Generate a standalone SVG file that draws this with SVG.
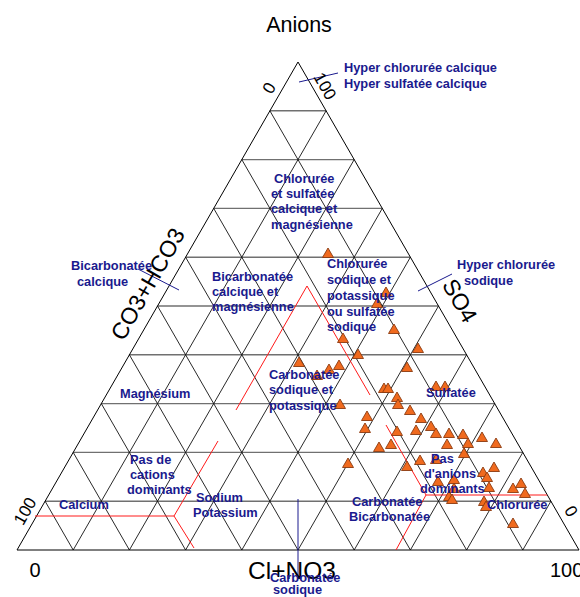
<svg xmlns="http://www.w3.org/2000/svg" width="580" height="597" viewBox="0 0 580 597">
<style>
.lbl{font-family:"Liberation Sans",Arial,sans-serif;font-weight:bold;font-size:12.8px;fill:#1a1a8e}
.ax{font-family:"Liberation Sans",Arial,sans-serif;fill:#000}
.h{stroke:#707070;stroke-width:1.4;fill:none}
.d{stroke:#111;stroke-width:0.9;fill:none}
.red{stroke:#ff1a1a;stroke-width:1;fill:none}
.lead{stroke:#1a1a8e;stroke-width:1;fill:none}
.pt{fill:#f06a1e;stroke:#8a3a10;stroke-width:0.9}
</style>
<defs>
<path id="tri" d="M0,-5 L5.5,4.5 L-5.5,4.5 Z"/>
</defs>
<rect width="580" height="597" fill="#fff"/>
<g id="grid">
<g class="h">
<line x1="269.9" y1="110.8" x2="326.1" y2="110.8"/>
<line x1="241.8" y1="159.6" x2="354.2" y2="159.6"/>
<line x1="213.7" y1="208.4" x2="382.3" y2="208.4"/>
<line x1="185.6" y1="257.2" x2="410.4" y2="257.2"/>
<line x1="157.5" y1="306" x2="438.5" y2="306"/>
<line x1="129.4" y1="354.8" x2="466.6" y2="354.8"/>
<line x1="101.3" y1="403.6" x2="494.7" y2="403.6"/>
<line x1="73.2" y1="452.4" x2="522.8" y2="452.4"/>
<line x1="45.1" y1="501.2" x2="550.9" y2="501.2"/>
</g>
<g class="d">
<line x1="73.2" y1="550" x2="326.1" y2="110.8"/>
<line x1="129.4" y1="550" x2="354.2" y2="159.6"/>
<line x1="185.6" y1="550" x2="382.3" y2="208.4"/>
<line x1="241.8" y1="550" x2="410.4" y2="257.2"/>
<line x1="298" y1="550" x2="438.5" y2="306"/>
<line x1="354.2" y1="550" x2="466.6" y2="354.8"/>
<line x1="410.4" y1="550" x2="494.7" y2="403.6"/>
<line x1="466.6" y1="550" x2="522.8" y2="452.4"/>
<line x1="522.8" y1="550" x2="550.9" y2="501.2"/>
<line x1="73.2" y1="550" x2="45.1" y2="501.2"/>
<line x1="129.4" y1="550" x2="73.2" y2="452.4"/>
<line x1="185.6" y1="550" x2="101.3" y2="403.6"/>
<line x1="241.8" y1="550" x2="129.4" y2="354.8"/>
<line x1="298" y1="550" x2="157.5" y2="306"/>
<line x1="354.2" y1="550" x2="185.6" y2="257.2"/>
<line x1="410.4" y1="550" x2="213.7" y2="208.4"/>
<line x1="466.6" y1="550" x2="241.8" y2="159.6"/>
<line x1="522.8" y1="550" x2="269.9" y2="110.8"/>
<polygon points="298,62 17,550 579,550" stroke="#000" stroke-width="1"/>
</g>
</g>
<g id="connectors">
<g class="red">
<polyline points="35,516 174,516 218,441"/>
<line x1="174" y1="516" x2="194" y2="548"/>
<polyline points="236,410 307,286 370,395"/>
<polyline points="386,425 426,495 547,495"/>
<line x1="426" y1="495" x2="396" y2="550"/>
</g>
<g class="lead">
<line x1="299" y1="82" x2="338" y2="73"/>
<line x1="138" y1="269" x2="179" y2="290"/>
<line x1="418" y1="291" x2="452" y2="274"/>
<line x1="298" y1="499" x2="298" y2="578"/>
</g>
</g>
<g id="axes">
<text class="ax" x="299" y="32" font-size="21.5" text-anchor="middle">Anions</text>
<text class="ax" font-size="23" text-anchor="middle" transform="translate(154.6,288) rotate(-60)">CO3+HCO3</text>
<text class="ax" font-size="23" text-anchor="middle" transform="translate(453,304.6) rotate(60)">SO4</text>
<text class="ax" font-size="17" text-anchor="middle" transform="translate(274,91) rotate(-60)">0</text>
<text class="ax" font-size="17" text-anchor="middle" transform="translate(320,89) rotate(60)">100</text>
<text class="ax" font-size="17" text-anchor="middle" transform="translate(30,514) rotate(-60)">100</text>
<text class="ax" font-size="17" text-anchor="middle" transform="translate(566,514) rotate(60)">0</text>
<text class="ax" x="35" y="577" font-size="20" text-anchor="middle">0</text>
<text class="ax" x="550" y="577" font-size="20">100</text>
<text class="ax" x="248" y="579" font-size="24.5">Cl+NO3</text>
</g>
<g id="points">
<use href="#tri" class="pt" x="328" y="253"/>
<use href="#tri" class="pt" x="386" y="292"/>
<use href="#tri" class="pt" x="377" y="303"/>
<use href="#tri" class="pt" x="394" y="329"/>
<use href="#tri" class="pt" x="343" y="338"/>
<use href="#tri" class="pt" x="418" y="348"/>
<use href="#tri" class="pt" x="358" y="354"/>
<use href="#tri" class="pt" x="299" y="362"/>
<use href="#tri" class="pt" x="317" y="375"/>
<use href="#tri" class="pt" x="329" y="369"/>
<use href="#tri" class="pt" x="339" y="365"/>
<use href="#tri" class="pt" x="407" y="367"/>
<use href="#tri" class="pt" x="384" y="388"/>
<use href="#tri" class="pt" x="388" y="388"/>
<use href="#tri" class="pt" x="436" y="386"/>
<use href="#tri" class="pt" x="445" y="386"/>
<use href="#tri" class="pt" x="340" y="404"/>
<use href="#tri" class="pt" x="397" y="397"/>
<use href="#tri" class="pt" x="398" y="404"/>
<use href="#tri" class="pt" x="410" y="410"/>
<use href="#tri" class="pt" x="367" y="416"/>
<use href="#tri" class="pt" x="421" y="418"/>
<use href="#tri" class="pt" x="365" y="428"/>
<use href="#tri" class="pt" x="431" y="426"/>
<use href="#tri" class="pt" x="397" y="431"/>
<use href="#tri" class="pt" x="416" y="430"/>
<use href="#tri" class="pt" x="436" y="433"/>
<use href="#tri" class="pt" x="449" y="433"/>
<use href="#tri" class="pt" x="463" y="434"/>
<use href="#tri" class="pt" x="482" y="437"/>
<use href="#tri" class="pt" x="447" y="444"/>
<use href="#tri" class="pt" x="468" y="443"/>
<use href="#tri" class="pt" x="496" y="443"/>
<use href="#tri" class="pt" x="391" y="444"/>
<use href="#tri" class="pt" x="379" y="447"/>
<use href="#tri" class="pt" x="464" y="453"/>
<use href="#tri" class="pt" x="348" y="463"/>
<use href="#tri" class="pt" x="420" y="460"/>
<use href="#tri" class="pt" x="436" y="459"/>
<use href="#tri" class="pt" x="407" y="466"/>
<use href="#tri" class="pt" x="494" y="467"/>
<use href="#tri" class="pt" x="483" y="472"/>
<use href="#tri" class="pt" x="487" y="477"/>
<use href="#tri" class="pt" x="438" y="481"/>
<use href="#tri" class="pt" x="454" y="479"/>
<use href="#tri" class="pt" x="454" y="488"/>
<use href="#tri" class="pt" x="489" y="487"/>
<use href="#tri" class="pt" x="513" y="488"/>
<use href="#tri" class="pt" x="521" y="483"/>
<use href="#tri" class="pt" x="525" y="493"/>
<use href="#tri" class="pt" x="449" y="496"/>
<use href="#tri" class="pt" x="452" y="499"/>
<use href="#tri" class="pt" x="484" y="501"/>
<use href="#tri" class="pt" x="486" y="506"/>
<use href="#tri" class="pt" x="513" y="523"/>
</g>
<g id="hyper-calcique" class="lbl"><text x="344" y="72">Hyper chlorurée calcique</text><text x="344" y="88">Hyper sulfatée calcique</text></g>
<g id="chloruree-sulfatee" class="lbl"><text x="274" y="183">Chlorurée</text><text x="271" y="198">et sulfatée</text><text x="271" y="213">calcique et</text><text x="271" y="229">magnésienne</text></g>
<g id="bicarbonatee-calcique" class="lbl"><text x="71" y="270">Bicarbonatée</text><text x="77" y="286">calcique</text></g>
<g id="bicarbonatee-mg" class="lbl"><text x="212" y="281">Bicarbonatée</text><text x="212" y="296">calcique et</text><text x="212" y="311">magnésienne</text></g>
<g id="chloruree-sodique" class="lbl"><text x="327" y="268">Chlorurée</text><text x="327" y="284">sodique et</text><text x="327" y="300">potassique</text><text x="327" y="316">ou sulfatée</text><text x="327" y="331">sodique</text></g>
<g id="hyper-sodique" class="lbl"><text x="457" y="269">Hyper chlorurée</text><text x="464" y="285">sodique</text></g>
<g id="magnesium" class="lbl"><text x="120" y="398">Magnésium</text></g>
<g id="carbonatee-sodique-potassique" class="lbl"><text x="269" y="379">Carbonatée</text><text x="269" y="394">sodique et</text><text x="269" y="410">potassique</text></g>
<g id="sulfatee" class="lbl"><text x="426" y="397">Sulfatée</text></g>
<g id="pas-cations" class="lbl"><text x="130" y="464">Pas de</text><text x="130" y="479">cations</text><text x="127" y="494">dominants</text></g>
<g id="sodium-potassium" class="lbl"><text x="196" y="502">Sodium</text><text x="193" y="517">Potassium</text></g>
<g id="calcium" class="lbl"><text x="59" y="509">Calcium</text></g>
<g id="pas-anions" class="lbl"><text x="431" y="463">Pas</text><text x="424" y="478">d'anions</text><text x="420" y="493">dominants</text></g>
<g id="carbonatee-bicarbonatee" class="lbl"><text x="352" y="506">Carbonatée</text><text x="349" y="521">Bicarbonatée</text></g>
<g id="chloruree" class="lbl"><text x="487" y="509">Chlorurée</text></g>
<g id="carbonatee-sodique" class="lbl"><text x="270" y="582">Carbonatée</text><text x="273" y="594">sodique</text></g>
</svg>
